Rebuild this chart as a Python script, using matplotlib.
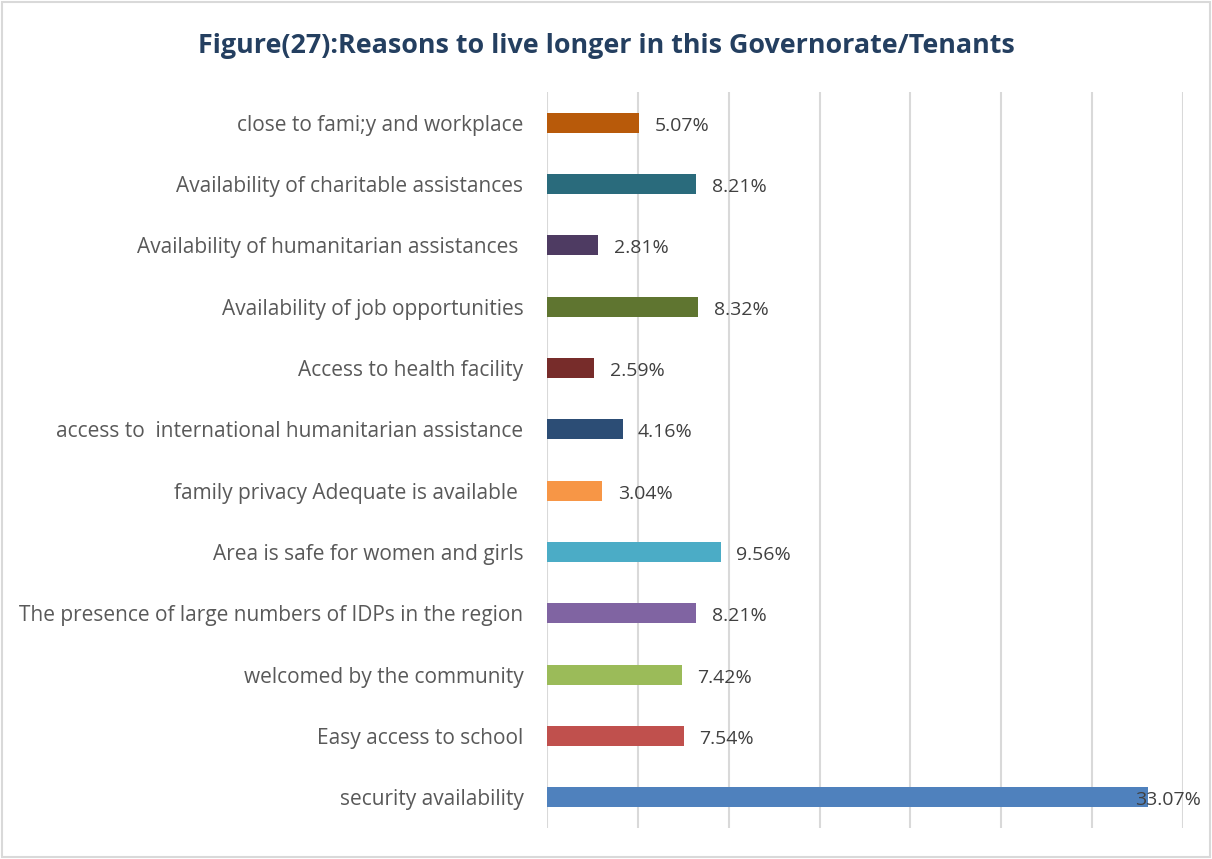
import matplotlib
matplotlib.use("Agg")
import matplotlib.pyplot as plt
from matplotlib.patches import Rectangle

# data (top to bottom as in the chart)
categories = [
    "close to fami;y and workplace",
    "Availability of charitable assistances",
    "Availability of humanitarian assistances ",
    "Availability of job opportunities",
    "Access to health facility",
    "access to  international humanitarian assistance",
    "family privacy Adequate is available ",
    "Area is safe for women and girls",
    "The presence of large numbers of IDPs in the region",
    "welcomed by the community",
    "Easy access to school",
    "security availability",
]
values = [5.07, 8.21, 2.81, 8.32, 2.59, 4.16, 3.04, 9.56, 8.21, 7.42, 7.54, 33.07]
colors = ["#B85A0A", "#2A6B7C", "#4E3B62", "#5F7530", "#772C2A", "#2C4D75",
          "#F79646", "#4BACC6", "#8064A2", "#9BBB59", "#C0504D", "#4F81BD"]

plt.rcParams['font.family'] = ['Open Sans', 'DejaVu Sans']

fig = plt.figure(figsize=(12.12, 8.59), dpi=100)
ax = fig.add_axes([547 / 1212, 31 / 859, 636 / 1212, 736 / 859])

n = len(categories)
ypos = list(range(n - 1, -1, -1))
ax.barh(ypos, values, height=0.33, color=colors, zorder=3)

for y, v in zip(ypos, values):
    x = min(v + 0.85, 32.35)
    ax.text(x, y - 0.05, f"{v:.2f}%", va="center", ha="left",
            fontsize=14, color="#404040", zorder=4)

ax.set_xlim(0, 35)
ax.set_ylim(-0.5, n - 0.5)
ax.set_xticks(range(0, 36, 5))
ax.xaxis.grid(True, color="#D9D9D9", linewidth=1.5, zorder=0)
ax.tick_params(axis="x", bottom=False, labelbottom=False)
ax.set_yticks(ypos)
ax.set_yticklabels(categories, fontsize=15, color="#595959")
ax.tick_params(axis="y", left=False, pad=13.5)
for s in ax.spines.values():
    s.set_visible(False)

fig.text(0.5, 1 - 46 / 859, "Figure(27):Reasons to live longer in this Governorate/Tenants",
         ha="center", va="center", fontsize=19.4, fontweight="bold", color="#243F60")

fig.patches.append(Rectangle((0.002, 0.002), 0.996, 0.996, transform=fig.transFigure,
                             fill=False, edgecolor="#D9D9D9", linewidth=1.5))

fig.savefig("out.png", dpi=100, facecolor="white")
